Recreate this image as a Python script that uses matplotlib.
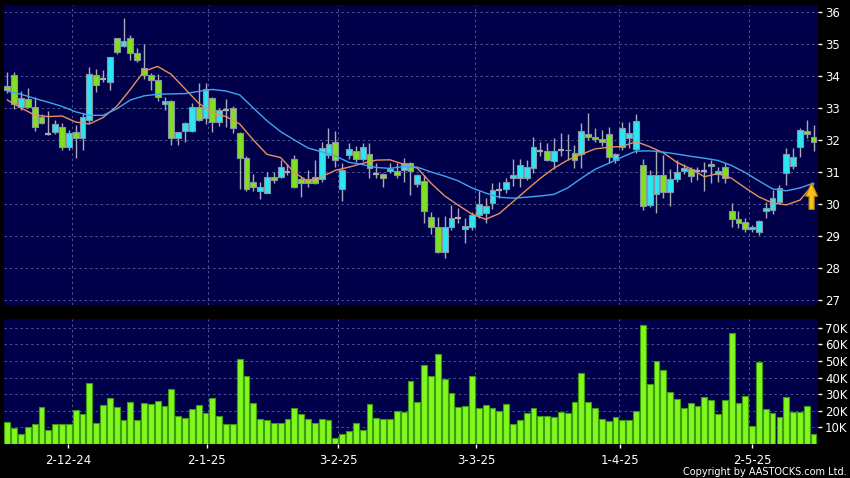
import matplotlib
matplotlib.use('Agg')  # no display
import matplotlib.pyplot as plt
from matplotlib.patches import FancyArrow

# Daily OHLC, one entry per trading day (index 0 = first candle on the left)
opens = [33.68, 34.02, 33.02, 33.27, 33.04, 32.71, 32.20, 32.26, 32.42, 31.79,
         32.26, 32.05, 32.62, 34.02, 33.92, 33.80, 35.18, 34.95, 35.18, 34.71,
         34.26, 34.02, 33.875, 33.125, 33.21, 32.05, 32.29, 32.29, 33.02, 32.68,
         33.30, 32.55, 32.94, 33.01, 32.21, 31.45, 30.70, 30.39, 30.35, 30.85,
         30.85, 31.00, 31.40, 30.79, 30.77, 30.85, 30.77, 31.53, 31.95, 30.46,
         31.53, 31.67, 31.40, 31.55, 30.94, 30.94, 31.02, 31.02, 31.06, 31.29,
         30.63, 30.71, 29.60, 29.29, 28.51, 29.27, 29.55, 29.21, 29.29, 29.66,
         29.71, 30.02, 30.45, 30.46, 30.81, 30.80, 30.80, 31.11, 31.66, 31.66,
         31.35, 31.69, 31.70, 31.60, 31.56, 32.19, 32.10, 32.02, 32.19, 31.375,
         31.77, 32.05, 31.71, 31.22, 29.97, 30.30, 30.89, 30.37, 30.78, 31.03,
         31.08, 31.02, 31.03, 31.26, 30.93, 31.15, 29.78, 29.53, 29.45, 29.22,
         29.12, 29.78, 29.81, 30.05, 30.96, 31.20, 31.79, 32.28, 32.10]
highs = [34.11, 34.13, 33.53, 33.63, 33.35, 32.81, 32.90, 32.63, 32.52, 32.31,
         32.47, 32.83, 34.27, 34.21, 34.20, 34.60, 35.20, 35.80, 35.27, 34.86,
         35.00, 34.08, 34.05, 33.35, 33.25, 32.26, 32.57, 33.15, 33.77, 33.77,
         33.35, 33.00, 33.27, 33.05, 32.25, 31.50, 30.95, 30.70, 31.00, 31.00,
         31.37, 31.25, 31.53, 30.85, 31.06, 31.37, 31.95, 32.36, 32.28, 31.27,
         31.90, 31.80, 31.90, 31.90, 31.27, 30.98, 31.27, 31.27, 31.45, 31.32,
         30.95, 30.91, 29.75, 29.60, 29.63, 29.97, 29.86, 29.55, 29.75, 30.39,
         30.17, 30.65, 30.68, 30.80, 31.40, 31.40, 31.375, 32.10, 31.95, 31.90,
         32.05, 32.21, 32.20, 31.85, 32.52, 32.83, 32.36, 32.30, 32.42, 31.60,
         32.57, 32.57, 32.81, 31.40, 31.05, 31.69, 31.53, 31.10, 31.38, 31.25,
         31.15, 31.15, 31.32, 31.38, 31.17, 31.27, 30.02, 29.78, 29.55, 29.35,
         29.50, 30.07, 30.44, 30.60, 31.74, 31.74, 32.36, 32.63, 32.47]
lows = [33.46, 32.96, 32.94, 33.00, 32.29, 32.50, 32.15, 32.19, 31.69, 31.69,
        31.45, 31.69, 32.52, 33.51, 33.80, 33.56, 34.70, 34.90, 34.50, 34.45,
        33.90, 33.56, 33.23, 32.94, 31.84, 31.84, 31.95, 32.25, 32.60, 32.50,
        32.26, 32.44, 32.42, 32.21, 30.47, 30.40, 30.42, 30.15, 30.33, 30.64,
        30.80, 30.90, 30.50, 30.21, 30.52, 30.62, 30.70, 31.45, 31.15, 30.10,
        31.40, 31.30, 31.35, 30.80, 30.80, 30.52, 30.96, 30.80, 30.70, 30.28,
        30.52, 29.40, 29.06, 28.46, 28.30, 29.20, 29.40, 28.79, 29.20, 29.55,
        29.40, 29.83, 30.20, 30.33, 30.56, 30.54, 30.75, 30.96, 31.50, 31.35,
        31.10, 31.50, 31.37, 31.12, 31.12, 32.00, 31.95, 31.80, 31.27, 31.27,
        31.70, 31.75, 31.60, 29.81, 29.90, 29.71, 30.20, 29.92, 30.70, 30.95,
        30.70, 30.75, 30.39, 30.65, 30.70, 30.65, 29.29, 29.25, 29.12, 29.12,
        29.03, 29.55, 29.70, 30.00, 30.60, 31.10, 31.48, 32.05, 31.66]
closes = [33.55, 33.11, 33.30, 33.04, 32.42, 32.54, 32.20, 32.50, 31.79, 32.21,
          32.05, 32.71, 34.05, 33.71, 33.92, 34.60, 34.76, 35.10, 34.71, 34.50,
          34.03, 33.875, 33.35, 33.21, 32.05, 32.26, 32.52, 33.02, 32.625, 33.60,
          32.57, 32.94, 32.94, 32.36, 31.45, 30.46, 30.54, 30.54, 30.85, 30.75,
          31.15, 31.00, 30.54, 30.67, 30.65, 30.67, 31.76, 31.87, 31.375, 31.06,
          31.71, 31.40, 31.79, 31.11, 30.94, 30.80, 31.10, 30.92, 31.29, 31.04,
          30.90, 29.79, 29.29, 28.51, 29.29, 29.55, 29.55, 29.31, 29.64, 30.00,
          29.95, 30.44, 30.45, 30.70, 30.90, 31.22, 31.15, 31.77, 31.66, 31.375,
          31.67, 31.69, 31.68, 31.375, 32.29, 32.10, 32.02, 31.93, 31.46, 31.55,
          32.36, 32.21, 32.60, 29.92, 30.89, 30.89, 30.37, 30.78, 31.01, 31.115,
          30.875, 31.02, 31.03, 31.20, 31.03, 30.82, 29.53, 29.39, 29.22, 29.29,
          29.47, 29.88, 30.20, 30.51, 31.55, 31.48, 32.31, 32.19, 31.93]

# Daily turnover in thousands of shares
volume_k = [13.2, 9.6, 5.8, 10.2, 12.2, 22.0, 8.6, 12.0, 12.0, 11.8,
            20.6, 18.2, 37.0, 12.6, 23.4, 27.8, 22.0, 14.2, 25.0, 14.2,
            24.4, 24.0, 26.2, 22.6, 33.0, 17.0, 15.8, 21.0, 23.4, 18.8,
            27.6, 16.6, 12.2, 12.2, 51.0, 40.8, 24.6, 15.2, 14.4, 12.6,
            12.5, 15.3, 21.8, 17.8, 15.0, 12.6, 15.0, 14.6, 3.8, 6.2,
            7.6, 12.8, 8.4, 24.2, 15.8, 15.0, 15.0, 19.6, 19.4, 38.0,
            25.2, 47.6, 41.0, 54.0, 39.4, 30.6, 22.4, 22.8, 41.0, 21.6,
            23.2, 21.6, 19.6, 24.0, 12.2, 14.2, 18.8, 21.6, 17.0, 17.0,
            16.0, 19.4, 18.8, 25.4, 42.8, 25.0, 21.6, 14.8, 14.0, 16.4,
            14.2, 14.2, 20.0, 71.6, 36.2, 50.0, 44.4, 31.2, 27.4, 21.6,
            24.6, 22.8, 28.2, 26.8, 18.2, 26.4, 67.0, 24.4, 29.0, 10.8,
            49.4, 20.8, 18.6, 16.0, 28.4, 19.4, 19.0, 22.6, 6.0]

# Moving averages every second day
ma_x = list(range(0, 119, 2))
ma_short = [33.25, 33.00, 32.78, 32.73, 32.75, 32.56, 32.50, 32.70, 33.05, 33.58,
            34.15, 34.30, 34.05, 33.60, 33.15, 32.85, 32.73, 32.50, 32.00, 31.55,
            31.45, 30.98, 30.71, 30.85, 31.05, 31.15, 31.27, 31.37, 31.38, 31.24,
            31.12, 30.65, 30.25, 29.96, 29.68, 29.52, 29.70, 30.07, 30.44, 30.80,
            31.12, 31.37, 31.55, 31.72, 31.77, 31.80, 31.95, 31.79, 31.60, 31.30,
            31.10, 30.85, 30.95, 30.80, 30.50, 30.22, 30.03, 29.97, 30.12, 30.62]
ma_long = [33.53, 33.43, 33.30, 33.18, 33.05, 32.88, 32.77, 32.77, 32.97, 33.25,
           33.38, 33.43, 33.44, 33.45, 33.52, 33.58, 33.53, 33.41, 33.00, 32.60,
           32.26, 32.00, 31.75, 31.63, 31.50, 31.30, 31.23, 31.14, 31.11, 31.17,
           31.15, 31.00, 30.87, 30.72, 30.50, 30.34, 30.21, 30.18, 30.21, 30.25,
           30.30, 30.50, 30.80, 31.08, 31.27, 31.47, 31.65, 31.66, 31.62, 31.56,
           31.49, 31.43, 31.36, 31.20, 30.98, 30.72, 30.47, 30.41, 30.50, 30.65]

date_labels = ['2-12-24', '2-1-25', '3-2-25', '3-3-25', '1-4-25', '2-5-25']
date_ticks = [8.9, 29.2, 48.4, 68.6, 89.7, 109.0]
date_grid = [9.5, 29.4, 48.4, 68.5, 89.5, 108.5]
price_ticks = list(range(27, 37))
vol_ticks = [10, 20, 30, 40, 50, 60, 70]

# Colours
bg_panel = '#00004a'
up_col = '#2ae6f2'
down_col = '#80e020'
doji_col = '#a8aab8'
edge_col = '#8a94a4'
grid_col = '#4c5690'
grid_ls = (0, (2.5, 3))

fig = plt.figure(figsize=(8.5, 4.78), dpi=100, facecolor='black')
ax = fig.add_axes([4 / 850, 1 - 305 / 478, 814 / 850, 300 / 478])
axv = fig.add_axes([4 / 850, 1 - 444 / 478, 814 / 850, 125 / 478])

for a in (ax, axv):
    a.set_facecolor(bg_panel)
    for s in a.spines.values():
        s.set_visible(False)
    a.set_xlim(-0.49, 118.64)
    for g in date_grid:
        a.axvline(g, color=grid_col, lw=0.7, ls=grid_ls, zorder=1)

# Price panel
ax.set_ylim(26.84, 36.22)
for p in price_ticks:
    ax.axhline(p, color=grid_col, lw=0.7, ls=grid_ls, zorder=1)

body_w = 0.84
for i in range(len(opens)):
    o, h, l, c = opens[i], highs[i], lows[i], closes[i]
    ax.vlines(i, l, h, color=doji_col, lw=1, zorder=2)
    if c == o:
        ax.hlines(o, i - body_w / 2, i + body_w / 2, color=doji_col, lw=1.6, zorder=3)
        continue
    col = up_col if c > o else down_col
    ax.bar(i, abs(c - o), bottom=min(o, c), width=body_w, color=col,
           edgecolor=edge_col, linewidth=0.8, zorder=3)

ax.plot(ma_x, ma_short, color='#e8905a', lw=1, zorder=4)
ax.plot(ma_x, ma_long, color='#3fa6ee', lw=1, zorder=4)

# Yellow marker arrow at the last point
ax.add_patch(FancyArrow(117.7, 29.83, 0, 0.83, width=0.75, head_width=1.75,
                        head_length=0.42, length_includes_head=True,
                        facecolor='#f5c21c', edgecolor='#b88400', lw=0.8, zorder=5))

ax.yaxis.tick_right()
ax.set_yticks(price_ticks)
ax.set_yticklabels([str(p) for p in price_ticks])
ax.set_xticks([])
ax.tick_params(axis='y', colors='white', length=3, width=1, pad=2, labelsize=8.5)

# Volume panel
axv.set_ylim(0, 75.3)
for v in vol_ticks:
    axv.axhline(v, color=grid_col, lw=0.7, ls=grid_ls, zorder=1)
axv.bar(range(len(volume_k)), volume_k, width=0.84, color='#80f81e',
        edgecolor='#3f9a12', linewidth=0.8, zorder=2)

axv.yaxis.tick_right()
axv.set_yticks(vol_ticks)
axv.set_yticklabels([f'{v}K' for v in vol_ticks])
axv.tick_params(axis='y', colors='white', length=3, width=1, pad=2, labelsize=8.5)
axv.set_xticks(date_ticks)
axv.set_xticklabels(date_labels)
axv.tick_params(axis='x', colors='white', length=3, width=1, pad=4, labelsize=8.5)
for t in axv.xaxis.get_ticklines():
    t.set_color('#9aa0b0')

fig.text(0.996, 0.013, 'Copyright by AASTOCKS.com Ltd.', color='white',
         fontsize=7, ha='right', va='center')

fig.savefig('out.png', dpi=100, facecolor='black')
plt.close(fig)
